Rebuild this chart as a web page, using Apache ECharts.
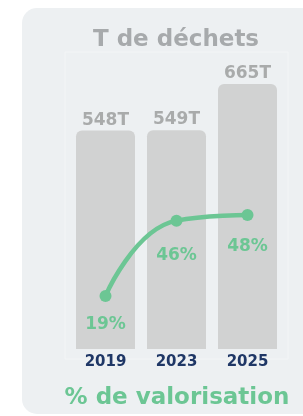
<!DOCTYPE html>
<html>
<head>
<meta charset="utf-8">
<script src="https://cdn.jsdelivr.net/npm/echarts@6/dist/echarts.min.js"></script>
<style>
  html, body { margin: 0; padding: 0; background: #fff; }
  #main { width: 303px; height: 416px; }
</style>
</head>
<body>
<div id="main"></div>
<script>
// data
var years = ['2019', '2023', '2025'];
var tonnes = [548, 549, 665];
var valorisation = [19, 46, 48];

var chart = echarts.init(document.getElementById('main'));
var font = '"DejaVu Sans", sans-serif';
var green = '#6cc694';
// labels of the line sit a bit lower on the flat part
var lineLabelDist = [14, 20, 17];

var option = {
    animation: false,
    backgroundColor: '#ffffff',
    graphic: [
        {
            type: 'rect',
            shape: { x: 22, y: 8, width: 320, height: 406, r: 15 },
            style: { fill: '#edf0f2' },
            z: -10
        },
        {
            type: 'rect',
            shape: { x: 65, y: 52, width: 223, height: 307 },
            style: { fill: 'none', stroke: '#f3f5f6', lineWidth: 1 },
            z: -9
        }
    ],
    title: [
        {
            text: 'T de déchets',
            left: 171, top: 24, textAlign: 'center',
            textStyle: { fontFamily: font, fontSize: 23, fontWeight: 'bold', color: '#a7aaac' }
        },
        {
            text: '% de valorisation',
            left: 172, top: 382, textAlign: 'center',
            textStyle: { fontFamily: font, fontSize: 23, fontWeight: 'bold', color: green }
        }
    ],
    grid: { left: 70, right: 20, top: 70, bottom: 67 },
    xAxis: {
        type: 'category',
        data: years,
        axisLine: { show: false },
        axisTick: { show: false },
        axisLabel: {
            margin: 6,
            fontFamily: font, fontSize: 15, fontWeight: 'bold', color: '#1f3766'
        }
    },
    yAxis: [
        { type: 'value', min: 0, max: 700, show: false, splitLine: { show: false } },
        { type: 'value', min: 0, max: 100, show: false, splitLine: { show: false } }
    ],
    series: [
        {
            type: 'bar',
            data: tonnes,
            barWidth: 59,
            itemStyle: { color: '#d1d2d2', borderRadius: [6, 6, 0, 0] },
            label: {
                show: true, position: 'top', distance: 2,
                formatter: '{c}T',
                fontFamily: font, fontSize: 17, fontWeight: 'bold', color: '#a9abab'
            }
        },
        {
            type: 'line',
            yAxisIndex: 1,
            smooth: true,
            data: valorisation.map(function (v, i) {
                return { value: v, label: { distance: lineLabelDist[i] } };
            }),
            symbol: 'circle',
            symbolSize: 12,
            lineStyle: { color: green, width: 4.5 },
            itemStyle: { color: green },
            label: {
                show: true, position: 'bottom',
                formatter: '{c}%',
                fontFamily: font, fontSize: 17, fontWeight: 'bold', color: green
            }
        }
    ]
};
chart.setOption(option);
</script>
</body>
</html>
